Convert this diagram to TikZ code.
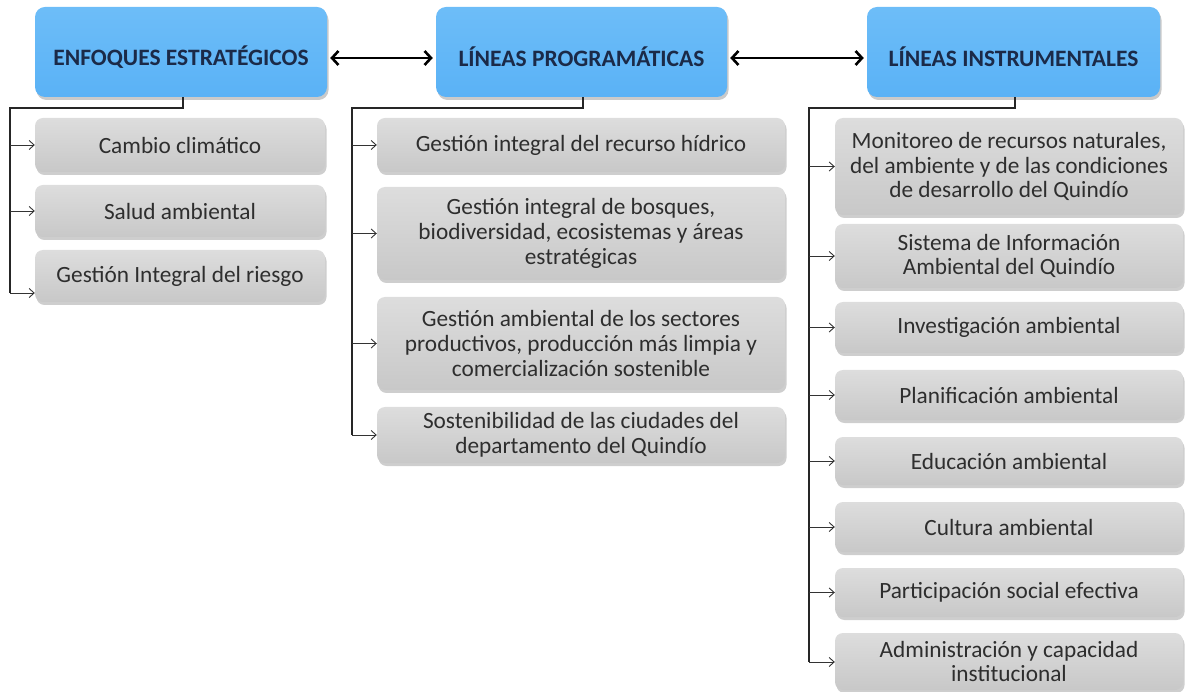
\documentclass[tikz,border=0pt]{standalone}
\usepackage{fontspec}
\setmainfont{Carlito}
\usetikzlibrary{arrows.meta,shadows,calc}
\definecolor{hblue}{HTML}{5AB2F6}
\definecolor{hbluetop}{HTML}{6DBDF8}
\definecolor{htext}{HTML}{1B2A48}
\definecolor{gtop}{HTML}{DDDDDD}
\definecolor{gbot}{HTML}{C8C8C8}
\definecolor{gtext}{HTML}{2E2E2E}
\begin{document}
\begin{tikzpicture}[x=1pt,y=-1pt,
  head/.style={rounded corners=10pt, top color=hbluetop, bottom color=hblue, draw=none,
    minimum width=292pt, minimum height=90pt, inner sep=0pt,
    drop shadow={shadow xshift=1.5pt, shadow yshift=-3pt, opacity=0.35, fill=black!60}},
  headtext/.style={text=htext, inner sep=0pt, font=\fontsize{23.5}{27}\selectfont\bfseries},
  item/.style={rounded corners=8pt, top color=gtop, bottom color=gbot, draw=none,
    inner sep=0pt, text=gtext, align=center,
    font=\fontsize{23.3}{24.8}\selectfont,
    drop shadow={shadow xshift=1.5pt, shadow yshift=-3pt, opacity=0.35, fill=black!55}},
  conn/.style={line width=1.5pt, black!85},
  br/.style={line width=0.9pt, black!80, -{Straight Barb[length=5pt,width=9pt]}},
  dbl/.style={line width=2.6pt, black, {Straight Barb[length=6.5pt,width=14pt]}-{Straight Barb[length=6.5pt,width=14pt]}, shorten <=3pt, shorten >=3pt}
]
\useasboundingbox (0,0) rectangle (1186,692);

% headers
\node[head] (H1) at (181,52) {};
\node[head, minimum width=291pt] (H2) at (581.5,52) {};
\node[head, minimum width=293pt] (H3) at (1013.5,52) {};
\node[headtext] (T1) at ([yshift=-5pt]H1.center) {ENFOQUES ESTRATÉGICOS};
\node[headtext] (T2) at ([yshift=-5pt]H2.center) {LÍNEAS PROGRAMÁTICAS};
\node[headtext] (T3) at ([yshift=-5pt]H3.center) {LÍNEAS INSTRUMENTALES};

\draw[dbl] ([yshift=-6pt]H1.east) -- ([yshift=-6pt]H2.west);
\draw[dbl] ([yshift=-6pt]H2.east) -- ([yshift=-6pt]H3.west);

% left column
\node[item, minimum width=290pt, minimum height=54pt] (L1) at (180,145) {Cambio climático};
\node[item, minimum width=290pt, minimum height=52pt] (L2) at (180,211) {Salud ambiental};
\node[item, minimum width=290pt, minimum height=52pt] (L3) at (180,276) {Gestión Integral del riesgo};

% middle column
\node[item, minimum width=408pt, minimum height=54pt] (M1) at (581,145) {Gestión integral del recurso hídrico};
\node[item, minimum width=408pt, minimum height=93pt] (M2) at (581,233.5) {Gestión integral de bosques,\\ biodiversidad, ecosistemas y áreas\\ estratégicas};
\node[item, minimum width=408pt, minimum height=93pt] (M3) at (581,343.5) {Gestión ambiental de los sectores\\ productivos, producción más limpia y\\ comercialización sostenible};
\node[item, minimum width=408pt, minimum height=56pt] (M4) at (581,435) {Sostenibilidad de las ciudades del\\ departamento del Quindío};

% right column
\node[item, minimum width=348pt, minimum height=97pt] (R1) at (1009,166.5) {Monitoreo de recursos naturales,\\ del ambiente y de las condiciones\\ de desarrollo del Quindío};
\node[item, minimum width=348pt, minimum height=64pt] (R2) at (1009,256) {Sistema de Información\\ Ambiental del Quindío};
\node[item, minimum width=348pt, minimum height=51pt] (R3) at (1009,327.5) {Investigación ambiental};
\node[item, minimum width=348pt, minimum height=50pt] (R4) at (1009,395) {Planificación ambiental};
\node[item, minimum width=348pt, minimum height=48pt] (R5) at (1009,461) {Educación ambiental};
\node[item, minimum width=348pt, minimum height=50pt] (R6) at (1009,527) {Cultura ambiental};
\node[item, minimum width=348pt, minimum height=49pt] (R7) at (1009,592.5) {Participación social efectiva};
\node[item, minimum width=348pt, minimum height=57pt] (R8) at (1009,661.5) {Administración y capacidad\\ institucional};

% connectors
\coordinate (v1) at (10,108);
\coordinate (e1) at (10,293);
\coordinate (v2) at (352,108);
\coordinate (e2) at (352,435);
\coordinate (v3) at (809,108);
\coordinate (e3) at (809,662);

\draw[conn] ([xshift=2pt]H1.south) -- ([xshift=2pt]H1.south |- v1) -- (v1) -- (e1);
\draw[conn] ([xshift=1.5pt]H2.south) -- ([xshift=1.5pt]H2.south |- v2) -- (v2) -- (e2);
\draw[conn] ([xshift=1.5pt]H3.south) -- ([xshift=1.5pt]H3.south |- v3) -- (v3) -- (e3);

\draw[br] (L1.west -| v1) -- (L1.west);
\draw[br] (L2.west -| v1) -- (L2.west);
\draw[br] (e1) -- (e1 -| L3.west);

\draw[br] (M1.west -| v2) -- (M1.west);
\draw[br] (M2.west -| v2) -- (M2.west);
\draw[br] (M3.west -| v2) -- (M3.west);
\draw[br] (e2) -- (e2 -| M4.west);

\draw[br] (R1.west -| v3) -- (R1.west);
\draw[br] (R2.west -| v3) -- (R2.west);
\draw[br] (R3.west -| v3) -- (R3.west);
\draw[br] (R4.west -| v3) -- (R4.west);
\draw[br] (R5.west -| v3) -- (R5.west);
\draw[br] (R6.west -| v3) -- (R6.west);
\draw[br] (R7.west -| v3) -- (R7.west);
\draw[br] (e3) -- (e3 -| R8.west);
\end{tikzpicture}
\end{document}
